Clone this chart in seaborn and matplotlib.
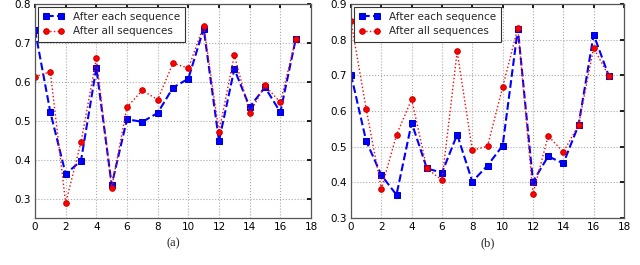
import matplotlib
matplotlib.use("Agg")
import matplotlib.pyplot as plt
import seaborn as sns
import numpy as np

x = list(range(18))

# Panel (a)
a_each = [0.733, 0.522, 0.363, 0.397, 0.636, 0.335, 0.504, 0.497, 0.520, 0.585,
          0.608, 0.737, 0.448, 0.633, 0.535, 0.586, 0.522, 0.709]
a_all = [0.613, 0.626, 0.288, 0.445, 0.660, 0.328, 0.535, 0.578, 0.554, 0.648,
         0.635, 0.744, 0.471, 0.669, 0.519, 0.591, 0.547, 0.709]

# Panel (b)
b_each = [0.702, 0.516, 0.420, 0.365, 0.567, 0.439, 0.427, 0.534, 0.402, 0.447,
          0.503, 0.830, 0.402, 0.473, 0.453, 0.560, 0.814, 0.698]
b_all = [0.851, 0.606, 0.382, 0.533, 0.633, 0.439, 0.406, 0.767, 0.490, 0.501,
         0.667, 0.833, 0.368, 0.530, 0.485, 0.560, 0.777, 0.698]

labels = ["After each sequence", "After all sequences"]
captions = ["(a)", "(b)"]

sns.set_theme(style="white")
plt.rcParams['font.family'] = ['DejaVu Sans']

fig = plt.figure(figsize=(6.4, 2.65), dpi=100)
ax1 = fig.add_axes([35/640, 47/265, 276/640, 214/265])
ax2 = fig.add_axes([351/640, 47/265, 273/640, 214/265])

panels = [(ax1, a_each, a_all, (0.25, 0.8), [0.3, 0.4, 0.5, 0.6, 0.7, 0.8]),
          (ax2, b_each, b_all, (0.3, 0.9), [0.3, 0.4, 0.5, 0.6, 0.7, 0.8, 0.9])]

for i, (ax, each, allv, ylim, yt) in enumerate(panels):
    sns.lineplot(x=x, y=each, ax=ax, color='#0000ff', linestyle='--', linewidth=1.5,
                 marker='s', markersize=4.5, markeredgecolor='#0000cc', label=labels[0])
    sns.lineplot(x=x, y=allv, ax=ax, color='#ff0000', linestyle=':', linewidth=1.0,
                 marker='o', markersize=4, markeredgecolor='#cc0000', label=labels[1])
    ax.set_xlim(0, 18)
    ax.set_ylim(*ylim)
    ax.set_xticks(range(0, 19, 2))
    ax.set_yticks(yt)
    ax.set_yticklabels([f"{v:.1f}" for v in yt])
    ax.grid(True, linestyle=':', color='#aaaaaa', linewidth=0.8)
    ax.tick_params(direction='in', length=3, labelsize=7.5, top=True, right=True,
                   colors='black', pad=3)
    for s in ax.spines.values():
        s.set_color('#555555')
        s.set_linewidth(0.9)
    leg = ax.legend(loc='upper left', fontsize=7.5, fancybox=False, framealpha=1,
                    edgecolor='#333333', handlelength=2.0, numpoints=2,
                    borderpad=0.5, labelspacing=0.45, borderaxespad=0.25,
                    handletextpad=0.9)
    leg.get_frame().set_linewidth(0.8)
    cx = (ax.get_position().x0 + ax.get_position().x1) / 2
    fig.text(cx, 22/265, captions[i], ha='center', va='center', fontsize=9,
             family=['Liberation Serif'])

fig.savefig("out.png", dpi=100)
